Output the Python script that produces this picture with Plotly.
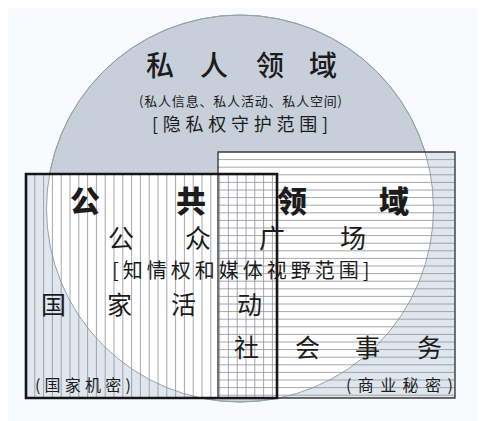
"""
私人领域 / 公共领域 示意图 (圆 + 两个带线纹的方框)
"""
import numpy as np
import plotly.graph_objects as go

#### 文字数据
private_title = ["私", "人", "领", "域"]
private_sub = "(私人信息、私人活动、私人空间)"
private_scope = "[隐私权守护范围]"

public_title = ["公", "共", "领", "域"]
public_square = ["公", "众", "广", "场"]
public_scope = "[知情权和媒体视野范围]"

state_words = ["国", "家", "活", "动"]
social_words = ["社", "会", "事", "务"]
state_secret = "(国家机密)"
trade_secret = "(商业秘密)"

#### 几何 (像素坐标, y 向下)
W, H = 486, 421
PAGE_OFFSET = 8                         # 页面 body 的默认边距
CX, CY, R = 240, 208.5, 193.5          # 私人领域 圆
LEFT_BOX = (26, 277, 174, 398)         # 国家活动 x0, x1, y0, y1
RIGHT_BOX = (218, 455, 152, 398)       # 社会事务

CIRCLE_FILL = "#c7cfda"
BOX_FILL = "#dfe6ee"
LINE_GREY = "#8d9299"
TEXT = "#1c1c1c"
CJK = "Noto Sans CJK SC"


def spaced(s, sep="\u2009"):
    # 字间加细空格
    return sep.join(s)


def circle_in_box(box):
    # 圆与方框的交集 -> svg path
    x0, x1, y0, y1 = box
    ys = np.linspace(max(y0, CY - R), min(y1, CY + R), 200)
    dx = np.sqrt(np.clip(R ** 2 - (ys - CY) ** 2, 0, None))
    left = np.maximum(x0, CX - dx)
    right = np.minimum(x1, CX + dx)
    pts = list(zip(left, ys)) + list(zip(right[::-1], ys[::-1]))
    return "M " + " L ".join(f"{x:.2f},{y:.2f}" for x, y in pts) + " Z"


shapes = []
# 圆
shapes.append(dict(type="circle", x0=CX - R, x1=CX + R, y0=CY - R, y1=CY + R,
                   fillcolor=CIRCLE_FILL, line=dict(color="#9aa0a8", width=1)))
# 方框底色
for b in (RIGHT_BOX, LEFT_BOX):
    shapes.append(dict(type="rect", x0=b[0], x1=b[1], y0=b[2], y1=b[3],
                       fillcolor=BOX_FILL, line=dict(width=0)))
# 圆内部分为白色
for b in (RIGHT_BOX, LEFT_BOX):
    shapes.append(dict(type="path", path=circle_in_box(b),
                       fillcolor="white", line=dict(width=0)))
# 圆弧再画一次
shapes.append(dict(type="circle", x0=CX - R, x1=CX + R, y0=CY - R, y1=CY + R,
                   fillcolor="rgba(0,0,0,0)", line=dict(color="#9aa0a8", width=1)))
# 右框横线
y = RIGHT_BOX[2] + 7.6
while y < RIGHT_BOX[3] - 2:
    shapes.append(dict(type="line", x0=RIGHT_BOX[0], x1=RIGHT_BOX[1], y0=y, y1=y,
                       line=dict(color=LINE_GREY, width=0.8)))
    y += 7.6
# 左框竖线
x = LEFT_BOX[0] + 8.8
while x < LEFT_BOX[1] - 2:
    shapes.append(dict(type="line", x0=x, x1=x, y0=LEFT_BOX[2], y1=LEFT_BOX[3],
                       line=dict(color=LINE_GREY, width=0.8)))
    x += 8.8
# 边框
shapes.append(dict(type="rect", x0=RIGHT_BOX[0], x1=RIGHT_BOX[1], y0=RIGHT_BOX[2], y1=RIGHT_BOX[3],
                   fillcolor="rgba(0,0,0,0)", line=dict(color="#3a3a3a", width=1.4)))
shapes.append(dict(type="rect", x0=LEFT_BOX[0], x1=LEFT_BOX[1], y0=LEFT_BOX[2], y1=LEFT_BOX[3],
                   fillcolor="rgba(0,0,0,0)", line=dict(color="#151515", width=2.6)))

annotations = []


def add_text(text, x, y, size, weight=400):
    annotations.append(dict(text=text, x=x, y=y, xref="x", yref="y", showarrow=False,
                            xanchor="center", yanchor="middle",
                            font=dict(family=CJK, size=size, color=TEXT, weight=weight)))


for ch, x in zip(private_title, [160, 214, 270, 323]):
    add_text(ch, x, 64, 28, 500)
add_text(spaced(private_sub, "\u200a"), 240, 100, 13)
add_text(spaced(private_scope, "\u2009\u200a"), 240, 123, 18)

for ch, x in zip(public_title, [85, 191, 292, 394]):
    add_text(ch, x, 199, 30, 900)
for ch, x in zip(public_square, [121, 198, 272, 353]):
    add_text(ch, x, 236, 26)
add_text(spaced(public_scope), 241, 269, 20)

for ch, x in zip(state_words, [53, 119, 183, 249]):
    add_text(ch, x, 303, 25)
for ch, x in zip(social_words, [246, 307, 367, 429]):
    add_text(ch, x, 346, 25)

add_text(spaced(state_secret, "\u2009\u200a"), 83, 384, 16)
add_text(spaced(trade_secret, "\u2009\u2009"), 399, 384, 16)

fig = go.Figure()
fig.update_layout(
    width=W, height=H,
    margin=dict(l=0, r=0, t=0, b=0),
    paper_bgcolor="#f8fbfd", plot_bgcolor="#f8fbfd",
    # 坐标按页面像素, 抵消 body 边距
    xaxis=dict(range=[PAGE_OFFSET, W + PAGE_OFFSET], visible=False, fixedrange=True),
    yaxis=dict(range=[H + PAGE_OFFSET, PAGE_OFFSET], visible=False, fixedrange=True),
    shapes=shapes,
    annotations=annotations,
    showlegend=False,
)
fig.write_html("out.html")
